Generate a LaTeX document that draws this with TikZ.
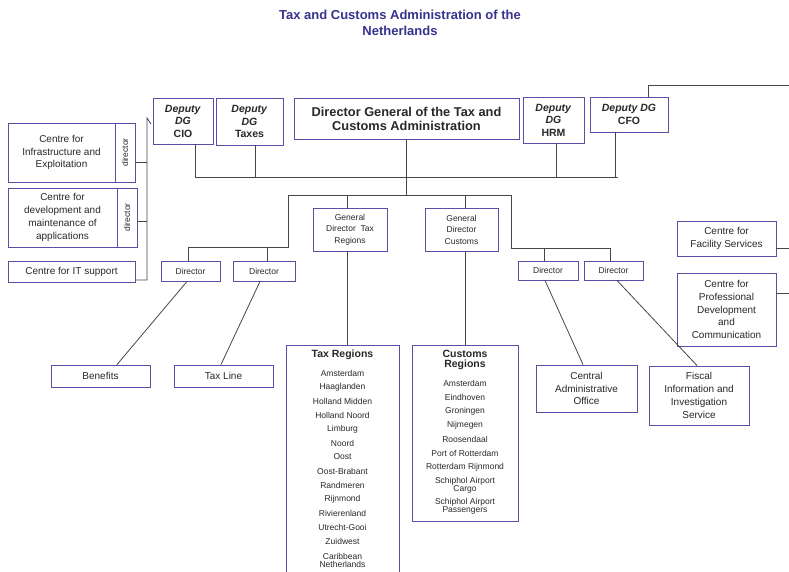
\documentclass[tikz,border=0pt]{standalone}
\usepackage{fontspec}
\setmainfont{Liberation Sans}
\usepackage{tikz}

\definecolor{boxblue}{RGB}{88,80,168}
\definecolor{titleblue}{RGB}{55,50,140}
\definecolor{linegray}{RGB}{70,70,70}
\definecolor{textgray}{RGB}{40,40,40}

\begin{document}
\begin{tikzpicture}[x=1pt,y=-1pt,
  box/.style={draw=boxblue, line width=0.9pt, fill=white, inner sep=0pt, align=center,
    text=textgray, font=\fontsize{10}{12.8}\selectfont},
  smallbox/.style={box, font=\fontsize{8.5}{11.5}\selectfont},
  deputy/.style={box, font=\bfseries\fontsize{10.5}{12.5}\selectfont},
  regitem/.style={font=\fontsize{8.5}{8}\selectfont, text=textgray, align=center},
  link/.style={draw=linegray, line width=0.8pt}]

\useasboundingbox (0,0) rectangle (789,572);

%title
\node[font=\bfseries\fontsize{13}{16}\selectfont, text=titleblue, align=center] (title) at (400,23)
  {Tax and Customs Administration of the\\Netherlands};


%top row of management
\node[deputy, minimum width=60, minimum height=46] (cio) at (183,121) {\textit{Deputy}\\\textit{DG}\\CIO};
\node[deputy, minimum width=67, minimum height=47] (taxes) at (249.5,121.5) {\textit{Deputy}\\\textit{DG}\\Taxes};
\node[box, font=\bfseries\fontsize{12.8}{14}\selectfont, minimum width=225, minimum height=41] (dg) at (406.5,118.5)
  {Director General of the Tax and\\Customs Administration};
\node[deputy, minimum width=61, minimum height=46] (hrm) at (553.5,120) {\textit{Deputy}\\\textit{DG}\\HRM};
\node[deputy, minimum width=78, minimum height=35] (cfo) at (629,114.5) {\textit{Deputy DG}\\CFO};


%centres on the left (IT)
\node[box, minimum width=107, minimum height=59] (infra) at (61.5,152.5) {Centre for\\Infrastructure and\\Exploitation};
\node[smallbox, rotate=90, minimum width=59, minimum height=20] (infradir) at (125,152.5) {director};
\node[box, minimum width=109, minimum height=59] (dev) at (62.5,217.5) {Centre for\\development and\\maintenance of\\applications};
\node[smallbox, rotate=90, minimum width=59, minimum height=20] (devdir) at (127,217.5) {director};
\node[box, minimum width=127, minimum height=21] (itsup) at (71.5,271.5) {Centre for IT support};


%general directors
\node[smallbox, minimum width=74, minimum height=43] (gdtax) at (350,229.5) {General\\Director~~Tax\\Regions};
\node[smallbox, minimum width=73, minimum height=43] (gdcus) at (461.5,229.5) {General\\Director\\Customs};


%directors
\node[smallbox, minimum width=59, minimum height=20] (dir1) at (190.5,271) {Director};
\node[smallbox, minimum width=62, minimum height=20] (dir2) at (264,271) {Director};
\node[smallbox, minimum width=60, minimum height=19] (dir3) at (548,270.5) {Director};
\node[smallbox, minimum width=59, minimum height=19] (dir4) at (613.5,270.5) {Director};


%bottom row
\node[box, minimum width=99, minimum height=22] (benefits) at (100.5,376) {Benefits};
\node[box, minimum width=99, minimum height=22] (taxline) at (223.5,376) {Tax Line};
\node[box, minimum width=101, minimum height=47] (cao) at (586.5,388.5) {Central\\Administrative\\Office};
\node[box, minimum width=100, minimum height=59] (fiis) at (699,395.5) {Fiscal\\Information and\\Investigation\\Service};


%centres on the right
\node[box, minimum width=99, minimum height=35] (facility) at (726.5,238.5) {Centre for\\Facility Services};
\node[box, minimum width=99, minimum height=73] (prodev) at (726.5,309.5) {Centre for\\Professional\\Development\\and\\Communication};


%region boxes
\node[box, minimum width=113, minimum height=232] (taxreg) at (342.5,461) {};
\node[box, minimum width=106, minimum height=176] (cusreg) at (465,433) {};

\node[font=\bfseries\fontsize{10.5}{11}\selectfont, text=textgray] (taxhead) at (342.5,355) {Tax Regions};
\foreach \reg [count=\i] in {Amsterdam,Haaglanden,Holland Midden,Holland Noord,Limburg,Noord,Oost,
  Oost-Brabant,Randmeren,Rijnmond,Rivierenland,Utrecht-Gooi,Zuidwest}
  \node[regitem] (tax\i) at (342.5,359+14*\i) {\reg};
\node[regitem] (tax14) at (342.5,560.5) {Caribbean\\Netherlands};

\node[font=\bfseries\fontsize{10.5}{10}\selectfont, text=textgray, align=center] (cushead) at (465,360) {Customs\\Regions};
\foreach \reg [count=\i] in {Amsterdam,Eindhoven,Groningen,Nijmegen,Roosendaal,Port of Rotterdam,Rotterdam Rijnmond}
  \node[regitem] (cus\i) at (465,369+14*\i) {\reg};
\node[regitem] (cus8) at (465,485) {Schiphol Airport\\Cargo};
\node[regitem] (cus9) at (465,506.5) {Schiphol Airport\\Passengers};


%upper bus line
\coordinate (busL) at (195,177);
\coordinate (busR) at (618,177);
\draw[link] (cio.south -| busL) -- (busL) -- (busR);
\draw[link] ([xshift=5.5]taxes.south) -- ([xshift=5.5]taxes.south |- busL);
\draw[link] ([xshift=2.5]hrm.south) -- ([xshift=2.5]hrm.south |- busR);
\draw[link] ([xshift=-14]cfo.south) -- ([xshift=-14]cfo.south |- busR);
\draw[link] ([xshift=19]cfo.north) |- (789,85); %to the right edge


%lower bus line
\coordinate (lowL) at (288,195);
\coordinate (lowR) at (511,195);
\draw[link] (dg.south) -- (dg.south |- lowL);
\draw[link] (lowL) -- (lowR);
\draw[link] ([xshift=-3]gdtax.north) -- ([xshift=-3]gdtax.north |- lowL);
\draw[link] ([xshift=3.5]gdcus.north) -- ([xshift=3.5]gdcus.north |- lowL);


%branches to the directors
\coordinate (subL) at (288,247);
\coordinate (subR) at (511,248);
\draw[link] (lowL) -- (subL) -| ([xshift=-2.5]dir1.north);
\draw[link] ([xshift=3]dir2.north) |- (subL);
\draw[link] (lowR) -- (subR) -| ([xshift=-3.5]dir4.north);
\draw[link] ([xshift=-4]dir3.north) |- (subR);


%regions
\draw[link] ([xshift=-3]gdtax.south) -- ([xshift=-3]gdtax.south |- taxreg.north);
\draw[link] ([xshift=3.5]gdcus.south) -- ([xshift=3.5]gdcus.south |- cusreg.north);


%diagonal lines from the directors
\draw[link] ([xshift=-3.5]dir1.south) -- ([xshift=16.5]benefits.north);
\draw[link] ([xshift=-4]dir2.south) -- ([xshift=-2.5]taxline.north);
\draw[link] ([xshift=-3]dir3.south) -- ([xshift=-3.5]cao.north);
\draw[link] ([xshift=3.5]dir4.south) -- ([xshift=-2]fiis.north);


%left bundle
\coordinate (leftTop) at (147,118);
\draw[link] ([yshift=-8.5]itsup.east) -| (leftTop) -- ++(4,6);
\draw[link] ([yshift=-9.5]infradir.south) -- ([yshift=-9.5]infradir.south -| leftTop);
\draw[link] ([yshift=-3.5]devdir.south) -- ([yshift=-3.5]devdir.south -| leftTop);


%right edge
\draw[link] ([yshift=-9.5]facility.east) -- ++(13,0);
\draw[link] ([yshift=16.5]prodev.east) -- ++(13,0);

\end{tikzpicture}
\end{document}
